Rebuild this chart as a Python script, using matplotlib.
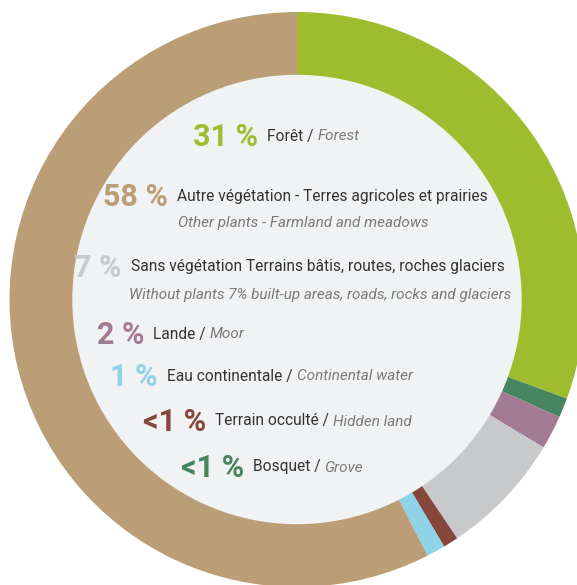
import matplotlib
matplotlib.use("Agg")
from matplotlib import pyplot as plt
from matplotlib.patches import Circle

# ring segments, clockwise from the top
categories = ['Forêt', 'Bosquet', 'Lande', 'Sans végétation',
              'Terrain occulté', 'Eau continentale', 'Autre végétation']
shares = [30.6, 1.1, 1.9, 7.0, 0.85, 1.05, 57.5]
colours = ['#9fbc2e', '#46855e', '#a27a94', '#c8c9ca',
           '#84473a', '#8fd3e8', '#bc9e76']

# legend in the middle, top to bottom
legend_pct = ['31 %', '58 %', '7 %', '2 %', '1 %', '<1 %', '<1 %']
legend_colour = ['#9fbc2e', '#bc9e76', '#c8c9ca', '#a27a94',
                 '#8fd3e8', '#84473a', '#46855e']
legend_fr = ['Forêt /', 'Autre végétation - Terres agricoles et prairies',
             'Sans végétation Terrains bâtis, routes, roches glaciers',
             'Lande /', 'Eau continentale /', 'Terrain occulté /', 'Bosquet /']
legend_en = ['Forest', 'Other plants - Farmland and meadows',
             'Without plants 7% built-up areas, roads, rocks and glaciers',
             'Moor', 'Continental water', 'Hidden land', 'Grove']
# True where the English text goes on its own line below
legend_en_below = [False, True, True, False, False, False, False]

W, H = 577, 585
CX, CY = 297, 299.5
R_OUT, R_IN = 287.5, 224

# layout of the legend rows (pixel coords from top-left)
row_x = [267, 177, 131, 153, 167, 215, 253]
row_y = [135, 195, 266, 333, 375, 420, 466]
sub_x = [None, 178, 129, None, None, None, None]
sub_gap = 27

DARK = '#333333'
GREY = '#7a7a7a'
FONT = 'Roboto'
PCT_SIZE = 22
TXT_SIZE = 11.2
ITA_SIZE = 11.0


def _y(py):
    return H - py


fig = plt.figure(figsize=(W / 100, H / 100), dpi=100)
ax = fig.add_axes([0, 0, 1, 1])

ax.pie(shares, colors=colours, startangle=90, counterclock=False,
       center=(CX, _y(CY)), radius=R_OUT,
       wedgeprops=dict(width=R_OUT - R_IN, linewidth=0))
ax.add_patch(Circle((CX, _y(CY)), R_IN, color='#f1f2f4', zorder=3))

ax.set_xlim(0, W)
ax.set_ylim(0, H)
ax.set_aspect('equal')
ax.axis('off')

fig.canvas.draw()
renderer = fig.canvas.get_renderer()
inv = ax.transData.inverted()

for i in range(len(legend_pct)):
    x, y = row_x[i], row_y[i]
    ax.text(x - 9, _y(y + 11), legend_pct[i], color=legend_colour[i],
            fontsize=PCT_SIZE, fontweight='bold', family=FONT,
            ha='right', va='baseline', zorder=5)
    t = ax.text(x, _y(y + 5.5), legend_fr[i], color=DARK, fontsize=TXT_SIZE,
                family=FONT, ha='left', va='baseline', zorder=5)
    if legend_en_below[i]:
        ax.text(sub_x[i], _y(y + 5.5 + sub_gap), legend_en[i], color=GREY,
                fontsize=ITA_SIZE, family=FONT, style='italic',
                ha='left', va='baseline', zorder=5)
    else:
        bb = t.get_window_extent(renderer)
        x_end = inv.transform((bb.x1, 0))[0]
        ax.text(x_end + 4, _y(y + 5.5), legend_en[i], color=GREY,
                fontsize=ITA_SIZE, family=FONT, style='italic',
                ha='left', va='baseline', zorder=5)

fig.savefig('out.png', dpi=100)
